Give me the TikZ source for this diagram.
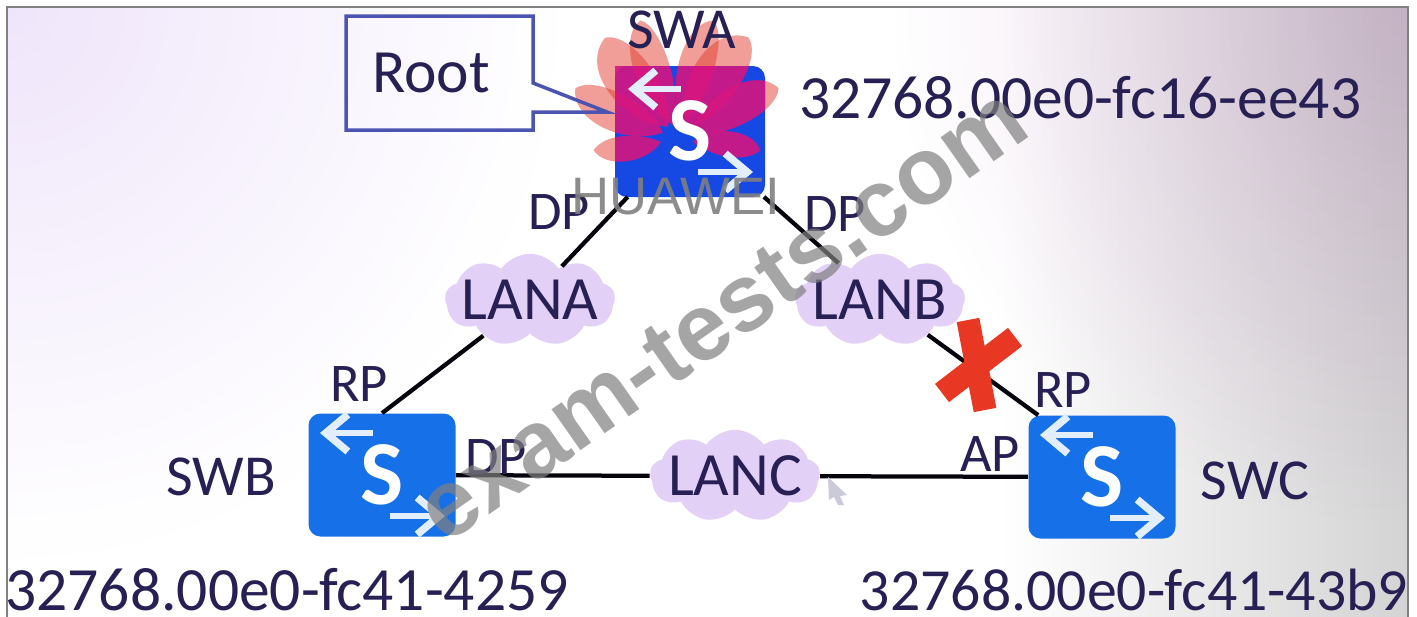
\documentclass[tikz,border=0pt]{standalone}
\usepackage{fontspec}
\setmainfont{Carlito}
\newfontfamily\markfont{Liberation Sans}
\usetikzlibrary{arrows.meta}
\usetikzlibrary{shapes.symbols}
\definecolor{inkblue}{RGB}{38,32,84}
\definecolor{swblue}{RGB}{22,112,232}
\definecolor{swtop}{RGB}{22,72,228}
\definecolor{lanpurple}{RGB}{226,208,247}
\definecolor{rootblue}{RGB}{76,84,178}
\definecolor{crossred}{RGB}{232,56,36}
\definecolor{logored}{RGB}{226,62,48}
\definecolor{logomagenta}{RGB}{214,22,128}
\definecolor{markgray}{RGB}{128,128,128}
\newcommand{\lanname}[1]{\raisebox{-.32em}[0pt][0pt]{\makebox[0pt]{#1}}}
\newcommand{\logopetals}{187/84/20,153/114/30,125/125/38,107/125/28,73/125/28,55/125/38,27/114/30,-7/84/20}
\tikzset{
	switch/.style={draw=none,fill=swblue,rounded corners=2.4mm,minimum width=2.94cm,minimum height=2.46cm,inner sep=0,text=white,font=\fontsize{52}{52}\selectfont\bfseries},
	swarrow/.style={-{Straight Barb[length=4.4mm,width=7.4mm,line width=1.5mm]},draw=white!88!swblue,line width=1.1mm},
	lan/.style={cloud,cloud puffs=9,cloud puff arc=110,aspect=1.9,fill=lanpurple,minimum width=3.4cm,minimum height=1.85cm,inner sep=0,text=inkblue,font=\fontsize{35}{35}\selectfont},
	tag/.style={text=inkblue,inner sep=0,font=\fontsize{31}{31}\selectfont},
	swname/.style={text=inkblue,inner sep=0,font=\fontsize{33}{33}\selectfont},
	addr/.style={text=inkblue,inner sep=0,font=\fontsize{35}{35}\selectfont},
	link/.style={draw=black!85!inkblue,line width=0.85mm},
	petal/.style={rotate around={#1:(677,140)},shift={(677,140)}},
}
\begin{document}
\begin{tikzpicture}[x=0.2mm,y=-0.2mm]
\useasboundingbox (0,0) rectangle (1417,617);
\fill[white] (0,0) rectangle (1417,617);

% backdrop of the photographed slide
\begin{scope}
\clip (8,8) rectangle (1408,617);
\begin{scope}[blend mode=multiply]
\shade[inner color=lanpurple!55!white,outer color=white] (8,8) circle (560);
\shade[left color=white,right color=black!17!white] (1000,8) rectangle (1408,617);
\shade[inner color=violet!16!white,outer color=white] (1408,8) circle (520);
\end{scope}
\end{scope}
\draw[gray,line width=0.3mm] (7,617) -- (7,7) -- (1408,7) -- (1408,617);

% logo, under the switch
\foreach \ang/\len/\wid in \logopetals
	\fill[logored,opacity=0.5,petal=\ang]
		(16,0) .. controls (0.4*\len,-\wid) and (\len-10,-\wid) .. (\len,0)
		.. controls (\len-12,\wid*0.7) and (40,\wid*0.7) .. (16,0) -- cycle;

\node[lan] (LANA) at (530,300) {\lanname{LANA}};
\node[lan] (LANB) at (880,300) {\lanname{LANB}};
\node[lan] (LANC) at (735,476) {\lanname{LANC}};
\node[switch] (SWB) at (382,475) {S};
\node[switch] (SWC) at (1102,477) {S};

% switch body of SWA with the logo over it
\fill[swtop,rounded corners=2.4mm] (615,66) rectangle (765,197);
\begin{scope}
\clip (615,66) rectangle (765,197);
\foreach \ang/\len/\wid in \logopetals
	\fill[logomagenta,opacity=0.9,petal=\ang]
		(16,0) .. controls (0.4*\len,-\wid) and (\len-10,-\wid) .. (\len,0)
		.. controls (\len-12,\wid*0.7) and (40,\wid*0.7) .. (16,0) -- cycle;
\end{scope}
\node[switch,fill=none,minimum width=3cm,minimum height=2.62cm] (SWA) at (690,131) {S};

\foreach \sw in {SWA,SWB,SWC} {
	\draw[swarrow] ([shift={(-9,-42)}]\sw.center) -- ([shift={(-62,-42)}]\sw.center);
	\draw[swarrow] ([shift={(8,41)}]\sw.center) -- ([shift={(63,41)}]\sw.center);
}

\path[link] (SWA) edge (LANA)
	(LANA) edge (SWB.north)
	(SWA) edge (LANB)
	(LANB) edge ([xshift=2mm]SWC.north west)
	(SWB) edge (LANC)
	(SWC) edge (LANC)
;

% root call-out
\draw[rootblue,line width=0.7mm] (346,16) -- (533,16) -- (533,83) -- (607,112) -- (533,112) -- (533,130) -- (346,130) -- cycle;
\node[swname,font=\fontsize{35}{35}\selectfont] (root) at (431,73) {Root};

\node[swname] (swa) at (682,30) {SWA};
\node[swname] (swb) at (221,477) {SWB};
\node[swname] (swc) at (1255,481) {SWC};
\node[addr] (swaaddr) at (1080,98) {32768.00e0-fc16-ee43};
\node[addr] (swbaddr) at (287,590) {32768.00e0-fc41-4259};
\node[addr,font=\fontsize{34}{34}\selectfont] (swcaddr) at (1134,590) {32768.00e0-fc41-43b9};

\node[tag] (dp1) at (559,212) {DP};
\node[tag] (dp2) at (835,214) {DP};
\node[tag] (rp1) at (359,384) {RP};
\node[tag] (rp2) at (1063,390) {RP};
\node[tag] (dp3) at (496,457) {DP};
\node[tag] (ap) at (990,454) {AP};

% blocked port
\coordinate (c1) at (968,320);
\coordinate (c2) at (985,410);
\coordinate (c3) at (1015,337);
\coordinate (c4) at (942,393);
\draw[crossred,line width=4.6mm] (c1) -- (c2);
\draw[crossred,line width=4.6mm] (c3) -- (c4);

% mouse pointer
\coordinate (p1) at (828,477);
\fill[blue!18!gray!35!white] (p1) -- (847,495) -- (840,496) -- (844,505) -- (838,505) -- (834,497) -- (829,500) -- cycle;

% watermark text
\node[text=markgray,opacity=0.9,inner sep=0,font=\markfont\fontsize{30}{30}\selectfont] (huawei) at (676,197) {HUAWEI};
\node[text=markgray,opacity=0.7,inner sep=0,rotate=35,font=\markfont\bfseries\fontsize{54}{54}\selectfont] (wmark) at (722,315) {exam-tests.com};
\end{tikzpicture}
\end{document}
